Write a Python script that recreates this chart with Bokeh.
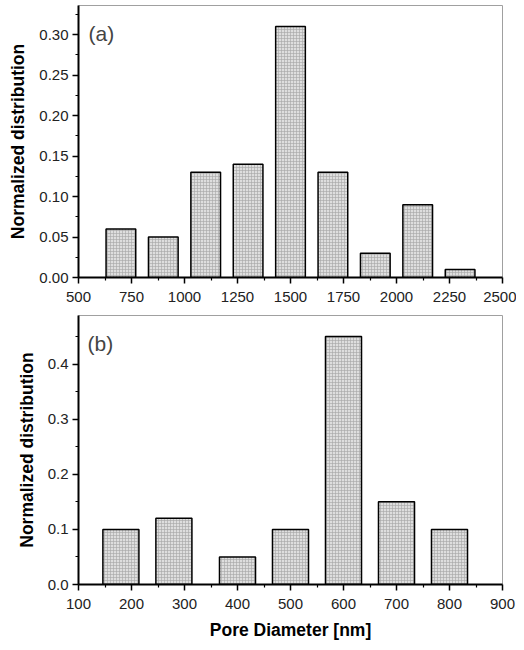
from bokeh.plotting import figure
from bokeh.models import Range1d, Label, NumeralTickFormatter, FixedTicker
from bokeh.layouts import column
from bokeh.embed import file_html
from bokeh.resources import INLINE

# panel (a) pore sizes and their share
a_centers = [700, 900, 1100, 1300, 1500, 1700, 1900, 2100, 2300]
a_values = [0.06, 0.05, 0.13, 0.14, 0.31, 0.13, 0.03, 0.09, 0.01]
a_xticks = [500, 750, 1000, 1250, 1500, 1750, 2000, 2250, 2500]
a_yticks = [0.00, 0.05, 0.10, 0.15, 0.20, 0.25, 0.30]

# panel (b)
b_centers = [180, 280, 400, 500, 600, 700, 800]
b_values = [0.10, 0.12, 0.05, 0.10, 0.45, 0.15, 0.10]
b_xticks = [100, 200, 300, 400, 500, 600, 700, 800, 900]
b_yticks = [0.0, 0.1, 0.2, 0.3, 0.4]

FONT = "Liberation Sans"

BAR_OPTIONS = dict(bottom=0,
                   fill_color="#dedede",
                   hatch_pattern="cross",
                   hatch_color="#a5a5a5",
                   hatch_scale=3,
                   hatch_weight=0.6,
                   line_color="black",
                   line_width=1.5)


def style(p, xticks, yticks, yfmt):
    p.xgrid.visible = False
    p.ygrid.visible = False
    p.outline_line_color = "#a0a0a0"
    p.outline_line_width = 1
    p.xaxis.ticker = FixedTicker(ticks=xticks,
                                 minor_ticks=[(xticks[i] + xticks[i + 1]) / 2
                                              for i in range(len(xticks) - 1)])
    step = yticks[1] - yticks[0]
    p.yaxis.ticker = FixedTicker(ticks=yticks,
                                 minor_ticks=[t + step / 2 for t in yticks])
    p.yaxis.formatter = NumeralTickFormatter(format=yfmt)
    for ax in (p.xaxis, p.yaxis):
        ax.axis_line_width = 2
        ax.axis_line_color = "black"
        ax.major_tick_line_width = 1.5
        ax.minor_tick_line_width = 1.2
        ax.major_tick_out = 6
        ax.major_tick_in = 0
        ax.minor_tick_out = 3
        ax.minor_tick_in = 0
        ax.major_label_text_font = FONT
        ax.major_label_text_font_size = "15px"
        ax.major_label_text_color = "#222222"
        ax.axis_label_text_font = FONT
        ax.axis_label_text_font_size = "17.5px"
        ax.axis_label_text_font_style = "bold"
        ax.axis_label_text_color = "black"
        ax.axis_label_standoff = 8
    p.xaxis.major_label_standoff = 8
    p.yaxis.major_label_standoff = 4
    p.yaxis.axis_label = "Normalized distribution"


# TOP PLOT (a)
top = figure(width=516, height=308,
             output_backend="svg", toolbar_location=None,
             x_range=Range1d(500, 2500), y_range=Range1d(0, 0.336),
             min_border_left=78, min_border_right=14,
             min_border_top=5, min_border_bottom=31)
top.vbar(x=a_centers, top=a_values, width=140, **BAR_OPTIONS)
style(top, a_xticks, a_yticks, "0.00")
top.add_layout(Label(x=547, y=0.302, text="(a)", text_font=FONT,
                     text_font_size="21px", text_baseline="alphabetic"))

# BOTTOM PLOT (b)
bottom = figure(width=516, height=334,
                output_backend="svg", toolbar_location=None,
                x_range=Range1d(100, 900), y_range=Range1d(0, 0.488),
                min_border_left=78, min_border_right=14,
                min_border_top=7, min_border_bottom=56)
bottom.vbar(x=b_centers, top=b_values, width=68, **BAR_OPTIONS)
style(bottom, b_xticks, b_yticks, "0.0")
bottom.xaxis.axis_label = "Pore Diameter [nm]"
bottom.add_layout(Label(x=117, y=0.438, text="(b)", text_font=FONT,
                        text_font_size="21px", text_baseline="alphabetic"))

p = column(top, bottom, spacing=0)

open("out.html", "w").write(file_html(p, INLINE))
